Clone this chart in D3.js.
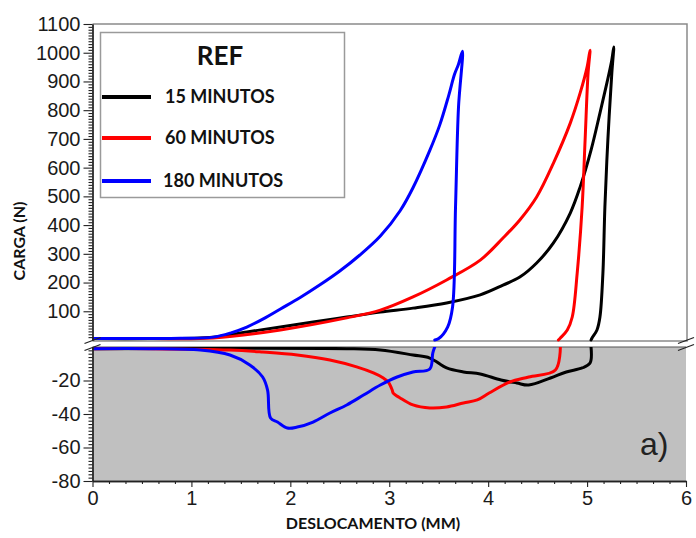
<!DOCTYPE html>
<html><head><meta charset="utf-8">
<script src="https://cdn.jsdelivr.net/npm/d3@7"></script>
<style>body{margin:0;background:#fff}svg{display:block}</style>
</head><body><svg id="c" width="696" height="538"></svg>
<script>
// ---- data ----
const xTicks = [0, 1, 2, 3, 4, 5, 6];
const upperTicks = [100, 200, 300, 400, 500, 600, 700, 800, 900, 1000, 1100];
const lowerTicks = [-20, -40, -60, -80];
const seriesNames = ["15 MINUTOS", "60 MINUTOS", "180 MINUTOS"];
const seriesColors = ["#000000", "#ff0000", "#0000ff"];

// upper panel (load >= 0): loading then unloading
const upper15 = [[0,5],[0.58,5],[1.22,10],[1.56,28],[1.90,45],[2.23,63],[2.57,80],[2.91,97],[3.24,111],[3.58,129],[3.92,157],[4.15,191],[4.32,219],[4.49,268],[4.66,338],[4.83,442],[4.93,533],[5.04,661],[5.13,790],[5.20,894],[5.25,975],[5.27,1020],[5.25,929],[5.21,696],[5.18,463],[5.16,233],[5.13,80],[5.10,35],[5.05,7],[5.04,0]];
const upper60 = [[0,5],[0.58,5],[1.22,7],[1.90,35],[2.57,77],[2.91,104],[3.24,150],[3.58,209],[3.92,278],[4.15,355],[4.32,418],[4.49,498],[4.66,616],[4.83,755],[4.93,860],[5.00,950],[5.03,1009],[5.01,929],[4.98,696],[4.95,463],[4.90,233],[4.85,80],[4.80,35],[4.73,7],[4.71,0]];
const upper180 = [[0,5],[0.89,6],[1.22,10],[1.40,25],[1.56,45],[1.75,78],[1.90,108],[2.10,148],[2.30,192],[2.50,240],[2.70,295],[2.91,362],[3.11,450],[3.24,530],[3.41,660],[3.51,748],[3.60,850],[3.66,925],[3.70,960],[3.74,1005],[3.70,810],[3.67,463],[3.64,115],[3.59,45],[3.50,5],[3.46,0]];

// lower panel (load <= 0): unloading then return
const lower15 = [[5.04,0],[5.03,-9.6],[4.95,-12.5],[4.79,-14.9],[4.63,-18.5],[4.41,-22.7],[4.29,-21.5],[4.13,-19.7],[3.92,-16.1],[3.75,-14.9],[3.58,-12.5],[3.41,-6.6],[3.24,-4.8],[2.91,-1.8],[2.57,-1.0],[0,-1.0]];
const lower60 = [[4.73,0],[4.68,-13.7],[4.41,-17.9],[4.22,-20.9],[4.01,-27.5],[3.89,-31.6],[3.75,-33.4],[3.58,-35.8],[3.41,-36.4],[3.24,-34.6],[3.11,-30.4],[3.04,-27.5],[3.03,-25.7],[2.99,-20.9],[2.94,-18.5],[2.84,-15.5],[2.67,-11.9],[2.40,-7.8],[2.07,-4.8],[1.72,-3.0],[1.39,-1.8],[0.58,-1.0],[0,-1.0]];
const lower180 = [[3.46,0],[3.44,-3.6],[3.41,-13.1],[3.24,-14.9],[3.08,-17.9],[2.91,-22.7],[2.74,-28.7],[2.57,-34.6],[2.40,-39.4],[2.23,-44.8],[2.07,-47.8],[1.97,-48.4],[1.87,-44.8],[1.80,-42.4],[1.77,-25.7],[1.72,-17.9],[1.59,-10.7],[1.39,-4.8],[1.09,-1.8],[0.58,-1.0],[0,-1.0]];

const upperSeries = [upper15, upper60, upper180];
const lowerSeries = [lower15, lower60, lower180];

// ---- layout ----
const svg = d3.select("#c");
const x = d3.scaleLinear().domain([0, 6]).range([92.5, 686]);
const yU = d3.scaleLinear().domain([0, 1100]).range([340, 24]);
const yL = d3.scaleLinear().domain([-80, 0]).range([481, 347]);
const tickFont = "'Liberation Sans', Arial, sans-serif";
const boldFont = "Lato, 'Open Sans', sans-serif";
const plain = d => String(d);

// lower panel background
svg.append("rect").attr("x", x(0)).attr("y", yL(0)).attr("width", x(6) - x(0)).attr("height", yL(-80) - yL(0))
  .attr("fill", "#c0c0c0");
svg.append("line").attr("x1", x(0)).attr("x2", x(6)).attr("y1", yL(0)).attr("y2", yL(0)).attr("stroke", "#555").attr("stroke-width", 1.2);

// upper frame
svg.append("path").attr("d", `M${x(0)},${yU(1100)}H${x(6)+1}V${yU(0)+1}H${x(0)}`)
  .attr("fill", "none").attr("stroke", "#8a8a8a").attr("stroke-width", 1.5);

// clip paths
const defs = svg.append("defs");
defs.append("clipPath").attr("id", "clipU").append("rect").attr("x", x(0)).attr("y", yU(1100)).attr("width", x(6) - x(0)).attr("height", yU(0) - yU(1100) + 2);
defs.append("clipPath").attr("id", "clipL").append("rect").attr("x", x(0)).attr("y", yL(0)).attr("width", x(6) - x(0)).attr("height", yL(-80) - yL(0));

// curves
const curve = d3.curveCatmullRom.alpha(0.5);
const lineU = d3.line().x(d => x(d[0])).y(d => yU(d[1])).curve(curve);
const lineL = d3.line().x(d => x(d[0])).y(d => yL(d[1])).curve(curve);
const gU = svg.append("g").attr("clip-path", "url(#clipU)");
const gL = svg.append("g").attr("clip-path", "url(#clipL)");
upperSeries.forEach((s, i) => {
  gU.append("path").attr("d", lineU(s)).attr("fill", "none").attr("stroke", seriesColors[i])
    .attr("stroke-width", 3).attr("stroke-linejoin", "round").attr("stroke-linecap", "round");
});
lowerSeries.forEach((s, i) => {
  gL.append("path").attr("d", lineL(s)).attr("fill", "none").attr("stroke", seriesColors[i])
    .attr("stroke-width", 3).attr("stroke-linejoin", "round").attr("stroke-linecap", "round");
});

// axes
function styleAxis(g) {
  g.selectAll("path.domain").attr("stroke", "#222").attr("stroke-width", 1.3);
  g.selectAll(".tick line").attr("stroke", "#222").attr("stroke-width", 1.1);
  g.selectAll(".tick text").attr("fill", "#1a1a1a").style("font-family", tickFont).style("font-size", "20px");
}
const minorU = d3.range(10, 1101, 10).filter(v => v % 100 !== 0);
const minorL = d3.range(-78, 0, 2).filter(v => v % 20 !== 0);
const minorX = d3.range(1, 36).filter(v => v % 6 !== 0).map(v => v / 6);

const gYU = svg.append("g").attr("transform", `translate(${x(0)},0)`)
  .call(d3.axisLeft(yU).tickValues(upperTicks).tickFormat(plain).tickSize(9).tickSizeOuter(0).tickPadding(3));
styleAxis(gYU);
const gYUm = svg.append("g").attr("transform", `translate(${x(0)},0)`)
  .call(d3.axisLeft(yU).tickValues(minorU).tickSize(4).tickFormat("").tickSizeOuter(0));
styleAxis(gYUm);

const gYL = svg.append("g").attr("transform", `translate(${x(0)},0)`)
  .call(d3.axisLeft(yL).tickValues(lowerTicks).tickFormat(plain).tickSize(9).tickSizeOuter(0).tickPadding(3));
styleAxis(gYL);
const gYLm = svg.append("g").attr("transform", `translate(${x(0)},0)`)
  .call(d3.axisLeft(yL).tickValues(minorL).tickSize(4).tickFormat("").tickSizeOuter(0));
styleAxis(gYLm);

const gX = svg.append("g").attr("transform", `translate(0,${yL(-80)})`)
  .call(d3.axisBottom(x).tickValues(xTicks).tickFormat(plain).tickSize(6).tickSizeOuter(0).tickPadding(4));
styleAxis(gX);
const gXm = svg.append("g").attr("transform", `translate(0,${yL(-80)})`)
  .call(d3.axisBottom(x).tickValues(minorX).tickSize(3).tickFormat("").tickSizeOuter(0));
styleAxis(gXm);

// break marks
[x(0), x(6)].forEach(bx => {
  [yU(0) + 1, yL(0) + 1].forEach(by => {
    svg.append("line").attr("x1", bx - 8).attr("y1", by + 2.5).attr("x2", bx + 8).attr("y2", by - 3.5)
      .attr("stroke", "#222").attr("stroke-width", 1.3);
  });
});

// legend
svg.append("rect").attr("x", 100.5).attr("y", 32.5).attr("width", 244).attr("height", 165)
  .attr("fill", "#fff").attr("stroke", "#9a9a9a").attr("stroke-width", 1.5);
svg.append("text").attr("x", 220).attr("y", 65).attr("text-anchor", "middle")
  .style("font-family", boldFont).style("font-weight", "bold").style("font-size", "26px").attr("fill", "#111").text("REF");
const legY = [97, 138, 181];
seriesNames.forEach((n, i) => {
  svg.append("line").attr("x1", 102).attr("x2", 151).attr("y1", legY[i]).attr("y2", legY[i])
    .attr("stroke", seriesColors[i]).attr("stroke-width", 4);
  svg.append("text").attr("x", 165 - (i === 2 ? 2 : 0)).attr("y", legY[i] + 6)
    .style("font-family", boldFont).style("font-weight", "bold").style("font-size", "18px").attr("fill", "#111").text(n);
});

// axis titles
svg.append("text").attr("transform", "translate(25,241) rotate(-90)").attr("text-anchor", "middle")
  .style("font-family", boldFont).style("font-weight", "bold").style("font-size", "16px").attr("fill", "#111").text("CARGA (N)");
svg.append("text").attr("x", 373).attr("y", 529).attr("text-anchor", "middle")
  .style("font-family", boldFont).style("font-weight", "bold").style("font-size", "16px").attr("fill", "#111").text("DESLOCAMENTO (MM)");

// panel label
svg.append("text").attr("x", 640).attr("y", 455)
  .style("font-family", tickFont).style("font-size", "32px").attr("fill", "#222").text("a)");
</script></body></html>
